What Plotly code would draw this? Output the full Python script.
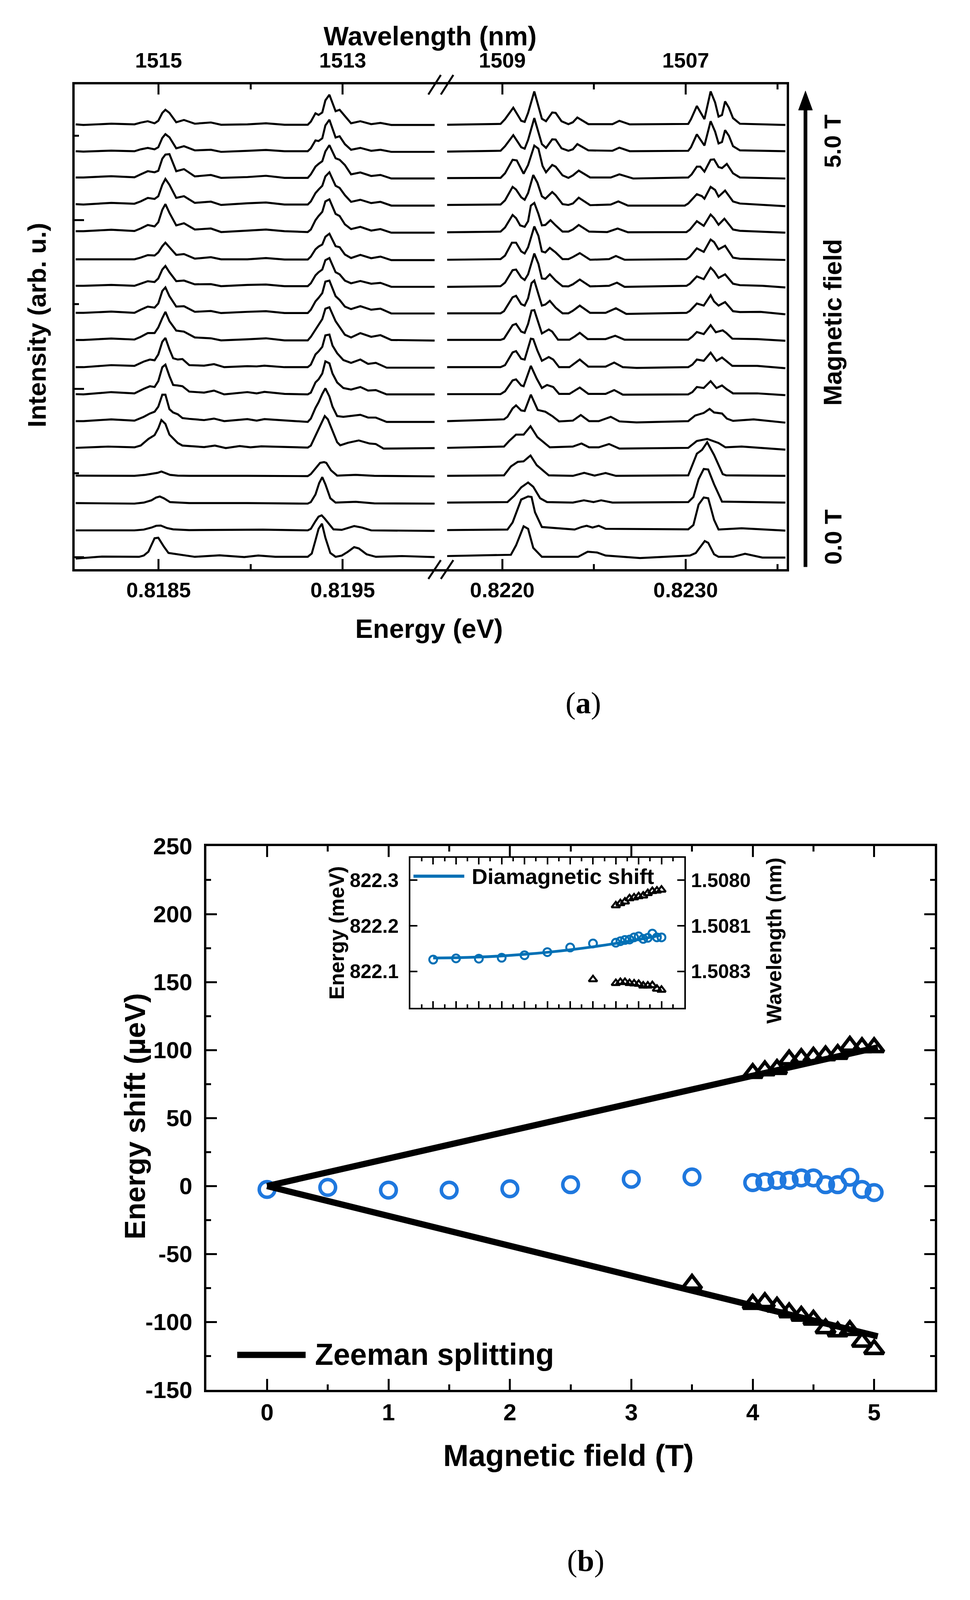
import numpy as np
import plotly.graph_objects as go

W, H = 2482, 4337
SANS = "Liberation Sans"
SERIF = "Liberation Serif"
BLUE_MAIN = "#1F78DE"
BLUE_INSET = "#0070B5"

def fx(p): return p / W
def fy(p): return 1 - p / H

# ---------- panel (a): spectra, detector channel vs counts ----------
CH_L_A = [245,270,360,435,455,478,500,512,525,535,548,570,595,630,682,715,800,860,920,995,1005,1020,1030,1042,1052,1065,1085,1098,1115,1135,1165,1200,1230,1265,1405]
CH_L_B = [245,270,360,435,465,485,500,512,525,535,548,560,575,590,612,660,692,725,800,830,855,920,995,1005,1020,1030,1042,1052,1065,1075,1090,1110,1135,1165,1190,1215,1250,1405]
CH_L_13 = [245,300,350,435,455,480,500,512,522,535,548,575,590,612,660,695,730,775,810,845,920,995,1005,1020,1035,1050,1060,1075,1090,1100,1125,1160,1195,1215,1240,1405]
CH_L_14 = [245,435,470,495,510,522,535,550,575,612,800,995,1005,1020,1035,1048,1055,1070,1090,1150,1210,1405]
CH_L_15 = [245,435,465,490,505,517,530,550,612,800,995,1005,1020,1032,1042,1052,1068,1085,1150,1210,1405]
CH_L_16 = [245,435,465,490,505,520,540,560,612,800,850,995,1005,1020,1030,1040,1050,1078,1105,1145,1170,1200,1405]
CH_L_17 = [245,330,450,465,480,500,512,530,545,630,710,790,835,890,995,1008,1020,1030,1041,1052,1068,1085,1105,1125,1145,1160,1185,1215,1300,1405]

L01 = [1,-2,4,1,9,16,6,18,56,71,56,11,22,4,10,-1,1,6,-1,-1,14,54,46,58,116,143,64,71,41,6,16,2,8,-2,-2]
L02 = [0,-2,3,0,9,16,9,19,64,82,67,14,24,4,7,-3,2,6,0,0,14,52,49,62,124,151,66,72,34,7,16,2,7,-3,-3]
L03 = [0,0,6,1,15,30,25,32,90,110,112,30,40,5,12,-2,2,8,-2,-2,15,52,65,78,125,155,92,85,60,15,24,7,12,-5,-5]
L04 = [0,-2,6,2,13,30,25,38,93,121,93,30,38,6,12,-4,4,8,-2,-2,13,53,70,88,133,153,88,78,43,11,21,5,11,-7,-7]
L05 = [0,0,7,1,13,30,23,43,103,130,88,28,38,8,13,-4,3,8,0,-4,8,53,73,93,143,153,83,73,33,10,21,3,10,-7,-7]
L06 = [0,0,2,0,8,20,18,33,63,80,58,21,25,3,10,0,0,6,-1,-1,13,48,61,71,108,123,63,58,23,6,21,5,13,-4,-4]
L07 = [0,0,4,0,10,22,18,35,78,95,65,22,25,7,8,-2,4,6,-2,-2,12,50,65,78,123,133,65,55,25,12,23,10,14,-5,-5]
L08 = [0,0,6,0,15,30,25,45,105,122,80,30,32,5,9,-1,5,8,-1,-1,15,55,72,95,150,155,80,62,30,18,32,15,20,-3,-3]
L09 = [0,0,7,2,15,33,33,60,105,135,90,45,40,12,8,-2,3,8,-2,-2,15,50,75,100,150,157,90,60,25,12,33,15,23,0,-3]
L10 = [-2,-2,6,3,20,28,25,48,98,113,68,33,28,30,6,4,10,-2,2,1,4,-2,-2,8,48,60,78,123,126,83,53,26,15,28,11,15,-4,-4]
L11 = [-2,-3,6,1,19,29,26,49,104,114,69,34,32,29,8,4,12,-3,6,1,7,-1,-3,4,44,56,79,127,119,79,44,22,16,26,12,14,-3,-3]
L12 = [0,0,7,2,17,30,37,57,104,104,47,34,27,12,9,4,10,0,8,2,8,2,-3,10,52,74,107,129,97,57,20,17,20,25,14,14,-3,-3]
L13 = [-3,-1,2,-1,6,32,47,74,106,91,49,16,6,4,0,6,-4,4,-1,3,1,-2,6,44,84,122,109,64,19,7,17,26,14,12,-6,-4]
L14 = [1,0,4,10,12,17,10,4,1,0,0,-1,7,29,51,54,51,22,1,4,0,-2]
L15 = [0,-2,2,11,22,26,19,4,0,0,-2,4,34,79,102,74,19,2,5,-1,-2]
L16 = [0,0,3,11,18,19,9,4,1,1,3,0,6,36,54,59,46,4,2,17,11,0,-2]
L17 = [-5,3,2,7,22,75,77,42,17,2,8,1,7,2,2,15,67,112,132,77,17,2,7,22,40,35,12,2,5,1]

CH_R_01 = [50,205,218,242,265,275,285,303,325,337,355,365,382,402,415,428,460,530,550,580,750,758,775,797,815,828,838,848,857,868,880,900,1032]
CH_R_03 = [50,205,218,240,252,272,285,303,315,327,337,355,365,385,402,415,432,465,525,550,590,750,760,775,785,797,815,825,838,848,862,880,900,1032]
CH_R_04 = [50,205,218,240,250,265,275,285,300,312,325,335,355,365,385,402,415,432,465,525,547,575,740,750,775,790,797,815,828,838,857,880,900,1032]
CH_R_05 = [50,205,218,240,250,262,275,285,293,303,315,325,335,350,365,385,402,415,432,462,515,545,575,745,755,775,795,815,825,838,855,880,900,1032]
CH_R_06 = [50,205,218,238,250,265,275,285,303,315,325,335,348,365,385,402,415,435,465,520,540,565,745,755,775,795,815,825,838,857,880,900,1032]
CH_R_07 = [50,205,218,240,250,265,275,285,303,315,325,335,348,365,385,402,415,435,465,520,543,565,745,755,775,795,815,825,838,857,880,900,965,1032]
CH_R_08 = [50,205,215,240,250,265,275,285,295,303,325,335,348,365,385,402,415,435,465,510,540,570,745,755,775,795,815,825,838,857,880,900,960,1032]
CH_R_09 = [50,205,215,240,250,265,275,285,295,303,325,345,355,372,405,420,435,458,510,538,565,750,762,775,795,815,830,850,860,878,950,1032]
CH_R_10 = [50,205,218,240,250,265,275,293,300,312,325,345,358,375,405,435,460,510,535,560,600,750,762,775,795,815,832,848,860,878,950,1032]
CH_R_11 = [50,205,218,240,250,265,272,293,310,325,340,358,375,405,435,460,510,535,560,750,762,775,795,815,832,848,860,880,950,1032]
CH_R_12 = [50,215,225,240,250,265,275,293,313,335,355,375,415,438,462,490,525,550,600,750,770,795,812,825,848,862,880,940,1032]
CH_R_13 = [50,215,230,250,272,292,312,330,348,415,440,462,490,520,550,750,775,805,838,858,905,1032]
CH_R_14 = [50,215,235,255,272,292,310,345,415,448,478,510,540,750,775,790,805,825,850,860,1032]
CH_R_15 = [50,225,245,265,285,300,320,340,415,447,475,497,530,750,765,780,795,808,825,848,1032]
CH_R_16 = [50,225,240,265,285,295,305,325,420,440,455,472,490,510,750,765,780,795,808,825,838,905,1032]
CH_R_17 = [50,235,250,272,285,300,325,430,458,485,510,610,755,772,798,808,825,838,880,915,965,1032]

R01 = [0,4,27,82,19,14,57,160,29,17,59,57,17,3,12,35,3,3,19,2,4,27,90,27,160,107,39,47,112,82,32,5,-1]
R02 = [-1,3,25,78,20,13,55,160,35,17,58,57,15,3,10,35,5,3,18,1,3,20,82,28,145,95,38,45,102,75,25,5,1]
R03 = [2,3,25,90,87,23,65,158,143,60,30,65,57,15,3,15,38,5,5,20,0,5,20,57,57,33,90,92,55,50,70,25,5,0]
R04 = [0,2,22,87,74,37,25,57,144,107,42,30,62,47,4,0,7,35,-1,2,17,-3,-3,7,52,42,30,87,72,40,69,17,7,-6]
R05 = [0,3,23,83,68,33,26,53,128,141,88,33,35,58,33,3,3,13,35,3,1,18,0,1,13,53,31,85,68,36,65,13,7,-2]
R06 = [0,3,20,82,82,40,30,60,160,115,40,35,57,35,3,3,13,32,0,3,18,0,3,15,55,38,97,85,50,67,10,5,-1]
R07 = [0,3,20,80,83,45,33,60,160,110,40,38,60,30,3,2,12,35,2,5,20,0,5,15,50,37,92,75,43,60,15,8,5,-3]
R08 = [1,1,11,78,85,45,38,73,146,158,38,43,61,28,1,1,13,38,3,3,25,-2,3,13,48,38,88,58,38,55,11,7,8,-4]
R09 = [0,0,6,71,77,40,34,77,141,143,31,50,40,1,1,16,34,4,4,20,1,1,16,38,28,71,37,46,34,6,4,-4]
R10 = [0,0,8,58,63,33,30,112,110,65,25,40,30,0,0,30,2,2,18,0,-3,0,10,30,25,57,25,38,25,5,5,-4]
R11 = [0,0,11,54,58,34,31,111,61,24,36,28,1,1,26,1,1,16,-2,-1,8,28,24,51,24,34,21,3,3,-4]
R12 = [2,9,19,52,64,44,42,106,46,39,22,1,4,26,2,2,19,1,-3,2,24,34,50,36,32,12,3,9,-4]
R13 = [0,5,27,52,52,85,42,22,2,5,17,2,2,15,-3,0,27,35,19,2,5,-7]
R14 = [0,2,37,55,57,80,42,2,0,12,1,11,0,2,87,102,132,82,7,2,0]
R15 = [0,2,27,60,79,62,17,2,0,9,2,9,0,2,22,92,132,130,72,4,0]
R16 = [0,2,30,120,132,130,70,12,2,12,17,10,17,5,3,20,100,128,125,40,2,7,-2]
R17 = [5,10,47,122,112,37,2,2,22,19,7,-3,7,17,64,57,12,2,2,14,-1,-1]

OFFSET_L = [1225.3,1151.8,1079.5,1006.0,931.4,854.0,781.0,706.4,631.7,558.1,483.8,408.0,336.5,257.2,182.1,107.0,32.7]
OFFSET_R = [1224.7,1151.3,1076.6,1003.7,928.5,852.7,778.1,704.6,631.8,556.7,482.4,406.6,334.4,257.2,183.5,107.8,32.7]
GAIN = [1/1.742]*9 + [1/1.4255]*8

LEFT = [(CH_L_A,L01),(CH_L_A,L02),(CH_L_A,L03),(CH_L_A,L04),(CH_L_A,L05),(CH_L_A,L06),(CH_L_A,L07),(CH_L_A,L08),(CH_L_A,L09),
        (CH_L_B,L10),(CH_L_B,L11),(CH_L_B,L12),(CH_L_13,L13),(CH_L_14,L14),(CH_L_15,L15),(CH_L_16,L16),(CH_L_17,L17)]
RIGHT = [(CH_R_01,R01),(CH_R_01,R02),(CH_R_03,R03),(CH_R_04,R04),(CH_R_05,R05),(CH_R_06,R06),(CH_R_07,R07),(CH_R_08,R08),(CH_R_09,R09),
         (CH_R_10,R10),(CH_R_11,R11),(CH_R_12,R12),(CH_R_13,R13),(CH_R_14,R14),(CH_R_15,R15),(CH_R_16,R16),(CH_R_17,R17)]

def energy_left(ch): return 0.8185 + (np.array(ch) - 513) / 595 * 1e-3
def energy_right(ch): return 0.8220 + (np.array(ch) - 210) / 532.5 * 1e-3

E_TICKS_L = [0.8185, 0.8195]
E_MINOR_L = [0.8190]
E_LABELS_L = ["0.8185", "0.8195"]
E_TICKS_R = [0.8220, 0.8230]
E_MINOR_R = [0.8225, 0.8235]
E_LABELS_R = ["0.8220", "0.8230"]
WL_LABELS_L = ["1515", "1513"]
WL_LABELS_R = ["1509", "1507"]
I_MAJOR = [33, 497, 962]
I_MINOR = [264, 731, 1194]

# ---------- panel (b) ----------
FIELD_C = [0,0.5,1,1.5,2,2.5,3,3.5,4,4.1,4.2,4.3,4.4,4.5,4.6,4.7,4.8,4.9,5]
SHIFT_C = [-2.5,-1,-3,-3,-2,1,5,6.7,2.5,3,4.2,4.2,6,6,1,1,6.5,-2.5,-4.8]
FIELD_UP = [4,4.1,4.2,4.3,4.4,4.5,4.6,4.7,4.8,4.9,5]
SHIFT_UP = [83,85,86,93,94,95,96,97,103,102,102]
FIELD_DN = [3.5,4,4.1,4.2,4.3,4.4,4.5,4.6,4.7,4.8,4.9,5]
SHIFT_DN = [-72,-86.8,-85.5,-88.8,-93,-95.5,-98.4,-104.7,-107,-106,-114.6,-120]
FIT_FIELD = [0,5.03]
FIT_UP = [0,102]
FIT_DN = [0,-110.5]
SHIFT_TICKS = [-150,-100,-50,0,50,100,150,200,250]
SHIFT_LABELS = ["-150","-100","-50","0","50","100","150","200","250"]

IN_E_C = [822.126,822.1286,822.128,822.130,822.1355,822.1424,822.1525,822.1613,822.163,822.1664,822.169,822.170,822.1747,822.177,822.1714,822.1737,822.183,822.1747,822.1747]
IN_E_UP = [822.2447,822.2493,822.253,822.260,822.262,822.2645,822.266,822.2714,822.276,822.277,822.279]
IN_E_DN = [822.0825,822.0742,822.0765,822.0765,822.0742,822.0733,822.0724,822.0687,822.0687,822.0696,822.0617,822.0595]
DIA_FIELD = [0,0.5,1,1.5,2,2.5,3,3.5,4,4.5,5]
DIA_E = [822.1295,822.130,822.1315,822.134,822.1375,822.142,822.1475,822.154,822.1615,822.170,822.1795]
IN_Y_TICKS = [822.1,822.2,822.3]
IN_Y_LABELS = ["822.1","822.2","822.3"]
IN_Y2_LABELS = ["1.5083","1.5081","1.5080"]

fig = go.Figure()
LINE_A = dict(color="black", width=5.2)

for i in range(17):
    ch, h = LEFT[i]
    fig.add_trace(go.Scatter(x=energy_left(ch), y=np.array(h) * GAIN[i] + OFFSET_L[i], mode="lines", line=LINE_A, xaxis="x", yaxis="y"))
    ch, h = RIGHT[i]
    fig.add_trace(go.Scatter(x=energy_right(ch), y=np.array(h) * GAIN[i] + OFFSET_R[i], mode="lines", line=LINE_A, xaxis="x2", yaxis="y2"))

# carrier traces so the wavelength axes exist
fig.add_trace(go.Scatter(x=E_TICKS_L, y=[None, None], mode="lines", xaxis="x3", yaxis="y"))
fig.add_trace(go.Scatter(x=E_TICKS_R, y=[None, None], mode="lines", xaxis="x4", yaxis="y2"))

# panel b
fig.add_trace(go.Scatter(x=FIELD_C, y=SHIFT_C, mode="markers", xaxis="x5", yaxis="y5",
                         marker=dict(symbol="circle-open", size=40, color=BLUE_MAIN, line=dict(width=9, color=BLUE_MAIN))))
fig.add_trace(go.Scatter(x=FIT_FIELD, y=FIT_UP, mode="lines", line=dict(color="black", width=16), xaxis="x5", yaxis="y5"))
fig.add_trace(go.Scatter(x=FIT_FIELD, y=FIT_DN, mode="lines", line=dict(color="black", width=16), xaxis="x5", yaxis="y5"))
for fx_, sy_ in ((FIELD_UP, SHIFT_UP), (FIELD_DN, SHIFT_DN)):
    fig.add_trace(go.Scatter(x=fx_, y=sy_, mode="markers", xaxis="x5", yaxis="y5",
                             marker=dict(symbol="triangle-up-open", size=43, color="black", line=dict(width=9, color="black"))))

# inset
fig.add_trace(go.Scatter(x=FIELD_C, y=IN_E_C, mode="markers", xaxis="x6", yaxis="y6",
                         marker=dict(symbol="circle-open", size=20, color=BLUE_INSET, line=dict(width=5, color=BLUE_INSET))))
fig.add_trace(go.Scatter(x=DIA_FIELD, y=DIA_E, mode="lines", xaxis="x6", yaxis="y6",
                         line=dict(color=BLUE_INSET, width=7, shape="spline")))
for fx_, sy_ in ((FIELD_UP, IN_E_UP), (FIELD_DN, IN_E_DN)):
    fig.add_trace(go.Scatter(x=fx_, y=sy_, mode="markers", xaxis="x6", yaxis="y6",
                             marker=dict(symbol="triangle-up-open", size=19, color="black", line=dict(width=5, color="black"))))
fig.add_trace(go.Scatter(x=IN_Y_TICKS, y=[None]*3, mode="lines", xaxis="x6", yaxis="y7"))

def font(size): return dict(family=SANS, size=size, color="black", weight=700)

DOM_A_Y = [fy(1533), fy(197)]
DOM_B_Y = [fy(3795), fy(2296)]
DOM_I_Y = [fy(2742), fy(2328.6)]

axis_common = dict(showgrid=False, zeroline=False, linecolor="black", tickcolor="black", showline=True)

fig.update_layout(
    width=W, height=H, autosize=False, margin=dict(l=0, r=0, t=0, b=0, pad=0),
    paper_bgcolor="white", plot_bgcolor="rgba(0,0,0,0)", showlegend=False, hovermode=False,
    font=dict(family=SANS, color="black"),
    xaxis=dict(**axis_common, domain=[fx(191), fx(1128)], range=[0.818044, 0.820033], anchor="y", side="bottom",
               linewidth=5.5, mirror="ticks", ticks="inside", ticklen=26, tickwidth=5,
               tickmode="array", tickvals=E_TICKS_L, ticktext=E_LABELS_L, tickfont=font(54), ticklabelstandoff=1,
               minor=dict(tickmode="array", tickvals=E_MINOR_L, ticks="inside", ticklen=13, tickwidth=5, tickcolor="black")),
    xaxis2=dict(**axis_common, domain=[fx(1128), fx(2013)], range=[0.821665, 0.823551], anchor="y2", side="bottom",
                linewidth=5.5, mirror="ticks", ticks="inside", ticklen=26, tickwidth=5,
                tickmode="array", tickvals=E_TICKS_R, ticktext=E_LABELS_R, tickfont=font(54), ticklabelstandoff=1,
                minor=dict(tickmode="array", tickvals=E_MINOR_R, ticks="inside", ticklen=13, tickwidth=5, tickcolor="black")),
    xaxis3=dict(showgrid=False, zeroline=False, showline=False, overlaying="x", side="top", anchor="y",
                range=[0.818044, 0.820033], ticks="", tickmode="array", tickvals=E_TICKS_L, ticktext=WL_LABELS_L,
                tickfont=font(54), ticklabelstandoff=31),
    xaxis4=dict(showgrid=False, zeroline=False, showline=False, overlaying="x2", side="top", anchor="y2",
                range=[0.821665, 0.823551], ticks="", tickmode="array", tickvals=E_TICKS_R, ticktext=WL_LABELS_R,
                tickfont=font(54), ticklabelstandoff=31),
    yaxis=dict(**axis_common, domain=DOM_A_Y, range=[0, 1336], anchor="x", side="left", linewidth=5.5,
               ticks="inside", ticklen=24, tickwidth=5, tickmode="array", tickvals=I_MAJOR, showticklabels=False,
               minor=dict(tickmode="array", tickvals=I_MINOR, ticks="inside", ticklen=11, tickwidth=5, tickcolor="black")),
    yaxis2=dict(**axis_common, domain=DOM_A_Y, range=[0, 1336], anchor="x2", side="right", linewidth=5.5,
                ticks="", showticklabels=False),
    xaxis5=dict(**axis_common, domain=[fx(528), fx(2392)], range=[-0.5, 5.5], anchor="y5", side="bottom",
                linewidth=6, mirror="ticks", ticks="inside", ticklen=28, tickwidth=5, tickmode="array",
                tickvals=[0,1,2,3,4,5], tickfont=font(60), ticklabelstandoff=0,
                minor=dict(tickmode="array", tickvals=[0.5,1.5,2.5,3.5,4.5,5.5], ticks="inside", ticklen=14, tickwidth=5, tickcolor="black")),
    yaxis5=dict(**axis_common, domain=DOM_B_Y, range=[-150, 250], anchor="x5", side="left",
                linewidth=6, mirror="ticks", ticks="inside", ticklen=27, tickwidth=5, tickmode="array",
                tickvals=SHIFT_TICKS, ticktext=SHIFT_LABELS, tickfont=font(60), ticklabelstandoff=18,
                minor=dict(tickmode="array", tickvals=[-125,-75,-25,25,75,125,175,225], ticks="inside", ticklen=12, tickwidth=5, tickcolor="black")),
    xaxis6=dict(**axis_common, domain=[fx(1050), fx(1751)], range=[-0.5, 5.5], anchor="y6", side="bottom",
                linewidth=4, mirror="ticks", ticks="inside", ticklen=17, tickwidth=3.5, tickmode="array",
                tickvals=[0,0.5,1,1.5,2,2.5,3,3.5,4,4.5,5], showticklabels=False,
                minor=dict(tickmode="array", tickvals=[-0.25,0.25,0.75,1.25,1.75,2.25,2.75,3.25,3.75,4.25,4.75,5.25], ticks="inside", ticklen=9, tickwidth=3.5, tickcolor="black")),
    yaxis6=dict(**axis_common, domain=DOM_I_Y, range=[822.02, 822.349], anchor="x6", side="left",
                linewidth=4, mirror="ticks", ticks="inside", ticklen=18, tickwidth=3.5, tickmode="array",
                tickvals=IN_Y_TICKS, ticktext=IN_Y_LABELS, tickfont=font(50), ticklabelstandoff=16),
    yaxis7=dict(showgrid=False, zeroline=False, showline=False, domain=DOM_I_Y, range=[822.02, 822.349], anchor="x6", overlaying="y6", side="right",
                ticks="", tickmode="array", tickvals=IN_Y_TICKS, ticktext=IN_Y2_LABELS, tickfont=font(50), ticklabelstandoff=16),
)

def note(text, x, y, size, angle=0, xanchor="center", family=SANS, bold=True):
    f = dict(family=family, size=size, color="black")
    if bold:
        f["weight"] = 700
    fig.add_annotation(text=text, x=fx(x), y=fy(y), xref="paper", yref="paper", showarrow=False,
                       textangle=angle, xanchor=xanchor, yanchor="middle", font=f)

note("Wavelength (nm)", 1100, 64, 68)
note("Energy (eV)", 1098, 1696, 68)
note("Intensity (arb. u.)", 95, 860, 65, angle=-90)
note("Magnetic field", 2131, 853, 64, angle=-90)
note("5.0 T", 2131, 354, 60, angle=-90)
note("0.0 T", 2131, 1445, 62, angle=-90)
note("(<b>a</b>)", 1492, 1902, 78, family=SERIF, bold=False)
note("(<b>b</b>)", 1498, 4265, 78, family=SERIF, bold=False)
note("Magnetic field (T)", 1454, 3975, 78)
note("Energy shift (µeV)", 345, 3041, 74, angle=-90)
note("Zeeman splitting", 804, 3697, 77, xanchor="left")
note("Diamagnetic shift", 1205, 2379, 56, xanchor="left")
note("Energy (meV)", 862, 2535, 53, angle=-90)
note("Wavelength (nm)", 1980, 2557, 53, angle=-90)

def seg(x0, y0, x1, y1, width, color="black"):
    fig.add_shape(type="line", xref="paper", yref="paper", x0=fx(x0), y0=fy(y0), x1=fx(x1), y1=fy(y1),
                  line=dict(color=color, width=width), layer="above")

# axis-break marks
for dx in (0, 32):
    seg(1128 + dx, 171, 1096 + dx, 225, 5)
    seg(1128 + dx, 1508, 1096 + dx, 1560, 5)
# field arrow
seg(2061, 1527, 2061, 262, 9.5)
fig.add_shape(type="path", xref="paper", yref="paper",
              path=f"M {fx(2061)} {fy(215)} L {fx(2079)} {fy(268)} L {fx(2043)} {fy(268)} Z",
              fillcolor="black", line=dict(color="black", width=1))
# legend keys
seg(607, 3698, 782, 3698, 16)
seg(1058, 2379, 1188, 2379, 8, BLUE_INSET)

# the usable page can be shorter than the requested window: fit the whole figure into it
POST = """
document.body.style.margin='0';
document.documentElement.style.overflow='hidden';
var gd=document.getElementsByClassName('plotly-graph-div')[0];
Plotly.relayout(gd,{height:window.innerHeight});
"""
fig.write_html("out.html", config={"responsive": False, "displayModeBar": False}, post_script=POST)
